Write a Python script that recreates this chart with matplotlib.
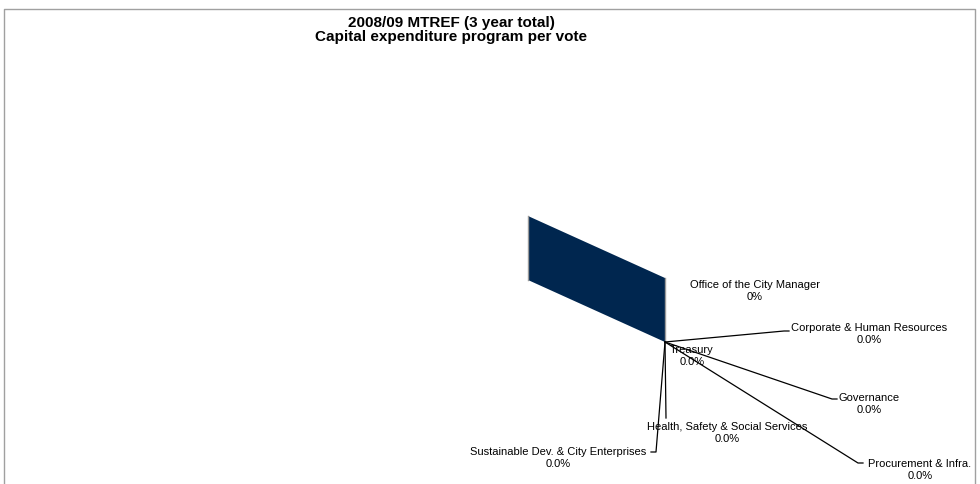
import matplotlib.pyplot as plt
from matplotlib.patches import Polygon

# capital expenditure per vote, 3 year total (all votes sum to zero)
votes = ['Office of the City Manager', 'Corporate & Human Resources', 'Treasury',
         'Governance', 'Procurement & Infra.', 'Health, Safety & Social Services',
         'Sustainable Dev. & City Enterprises']
values = [0.0, 0.0, 0.0, 0.0, 0.0, 0.0, 0.0]
pct_labels = ['0%', '0.0%', '0.0%', '0.0%', '0.0%', '0.0%', '0.0%']

plt.rcParams['font.family'] = ['Liberation Sans', 'DejaVu Sans']

fig = plt.figure(figsize=(9.8, 4.84), dpi=100)
ax = fig.add_axes([0, 0, 1, 1])
ax.set_xlim(0, 980)
ax.set_ylim(484, 0)
ax.axis('off')

# chart area border (bottom falls outside the image)
ax.plot([4, 4, 975, 975], [484, 9, 9, 484], color='#a0a0a0', lw=1)

ax.text(451, 30, '2008/09 MTREF (3 year total)\nCapital expenditure program per vote',
        ha='center', va='center', fontsize=11, fontweight='bold', linespacing=1.05)

# pie centre and the side wall of the collapsed 3D pie
cx, cy = 665, 342
radius_vec = (-137, -62)
depth = 64
wall = [(cx, cy), (cx, cy - depth),
        (cx + radius_vec[0], cy + radius_vec[1] - depth),
        (cx + radius_vec[0], cy + radius_vec[1])]
ax.add_patch(Polygon(wall, closed=True, facecolor='#00264f', edgecolor='none'))
ax.plot([cx, cx], [cy, cy - depth], color='#9a9a9a', lw=1)
ax.plot([wall[2][0], wall[3][0]], [wall[2][1], wall[3][1]], color='#9a9a9a', lw=1)

# label positions and leader lines (elbow, end) for each vote
label_pos = [(755, 291), (869, 334), (692, 356), (869, 404),
             (920, 470), (727, 433), (558, 458)]
leaders = [None,
           [(784, 331), (789, 331)],
           None,
           [(832, 399), (837, 399)],
           [(858, 463), (863, 463)],
           [(666, 418)],
           [(656, 452), (651, 452)]]

for vote, val, pct, (lx, ly), lead in zip(votes, values, pct_labels, label_pos, leaders):
    if lead is not None:
        xs = [cx] + [p[0] for p in lead]
        ys = [cy] + [p[1] for p in lead]
        ax.plot(xs, ys, color='black', lw=0.9)
    ax.text(lx, ly, f'{vote}\n{pct}', ha='center', va='center',
            fontsize=8, linespacing=1.3)

plt.savefig('out.png', dpi=100)
plt.close()
